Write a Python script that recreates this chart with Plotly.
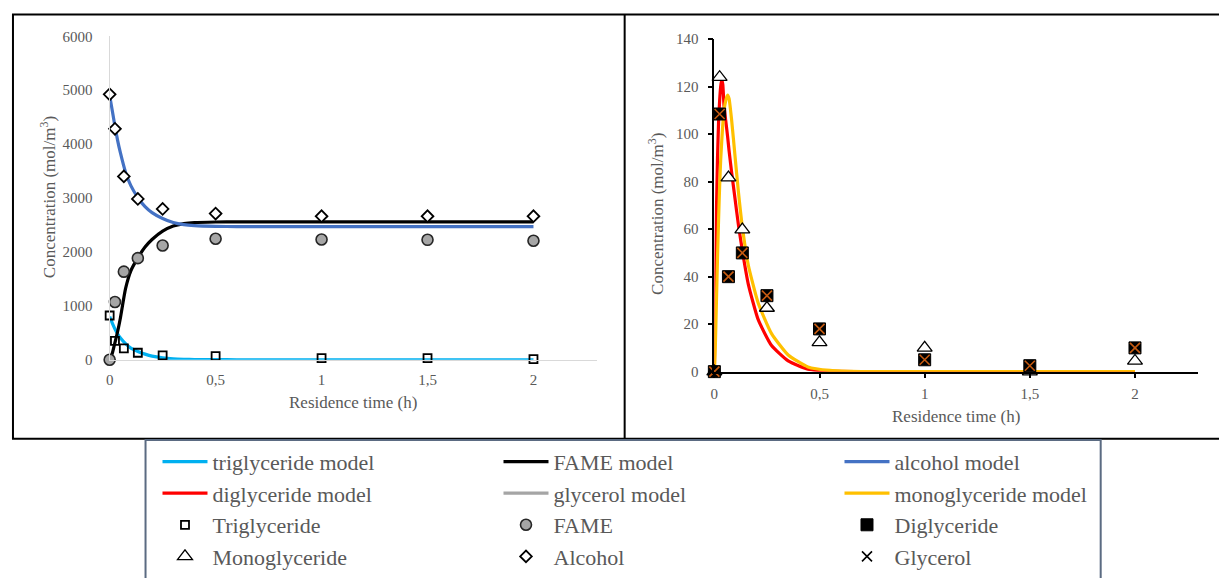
import plotly.graph_objects as go

# ---------------- data ----------------
t_obs = [0, 0.025, 0.067, 0.133, 0.25, 0.5, 1, 1.5, 2]

# left panel observations (mol/m3)
tg_obs = [821, 351, 211, 130, 81, 68, 31, 31, 13]
fame_obs = [0, 1072, 1634, 1885, 2120, 2244, 2231, 2225, 2207]
alc_obs = [4924, 4283, 3401, 2983, 2798, 2712, 2662, 2662, 2662]

# right panel observations (mol/m3)
dg_obs = [0, 108.5, 40, 50, 32, 18, 5, 2.5, 10]
mg_obs = [0, 124, 81.7, 59.8, 26.8, 12.3, 10, 0, 4.5]
gly_obs = [0, 108.5, 40, 50, 32, 18, 5, 2.5, 10]

# left panel model curves
t_model_left = [0, 0.0125, 0.025, 0.0375, 0.05, 0.075, 0.1, 0.133, 0.167, 0.2,
                0.25, 0.3, 0.35, 0.4, 0.5, 0.6, 0.8, 1, 1.5, 2]
tg_model = [800, 680, 570, 480, 410, 300, 215, 155, 105, 68,
            37, 19, 10, 5, 2, 0.5, 0, 0, 0, 0]
fame_model = [0, 120, 320, 520, 760, 1320, 1650, 1890, 2090, 2230,
              2385, 2480, 2525, 2545, 2555, 2558, 2558, 2558, 2558, 2558]
alc_model = [4900, 4620, 4330, 4070, 3850, 3480, 3230, 3010, 2840, 2730,
             2620, 2545, 2505, 2487, 2474, 2471, 2470, 2470, 2470, 2470]

# right panel model curves
t_model_right = [0, 0.005, 0.01, 0.015, 0.02, 0.025, 0.03, 0.035, 0.04, 0.046,
                 0.055, 0.063, 0.07, 0.082, 0.098, 0.114, 0.133, 0.161, 0.208,
                 0.272, 0.351, 0.445, 0.55, 0.7, 1, 1.5, 2]
dg_model = [0, 35, 68, 90, 105, 114, 120, 123, 121, 112,
            105, 99, 93, 84, 73, 62, 51, 37, 22,
            11, 4.5, 1, 0.2, 0, 0, 0, 0]
mg_model = [0, 12, 30, 48, 64, 78, 89, 97, 104, 110,
            114.5, 116.5, 115, 106, 91, 76, 61, 45, 29,
            16, 7, 2, 0.5, 0, 0, 0, 0]

x_tick_vals = [0, 0.5, 1, 1.5, 2]
x_tick_text = ["0", "0,5", "1", "1,5", "2"]
y_left_ticks = [0, 1000, 2000, 3000, 4000, 5000, 6000]
y_right_ticks = [0, 20, 40, 60, 80, 100, 120, 140]

# ---------------- styling ----------------
W, H = 1219, 578
FONT = "Liberation Serif"
GREY_TXT = "#595959"
# vertical correction for how the page is photographed
VS, VO = 0.972, 7.4


def fx(p):
    return p / W


def fy(p):
    p_in = (p - VO) / VS
    return 1 - p_in / H


C_TG = "#00B0F0"
C_FAME = "#000000"
C_ALC = "#4472C4"
C_DG = "#FF0000"
C_GLY = "#A5A5A5"
C_MG = "#FFC000"
C_X = "#C55A11"

fig = go.Figure()
LW = 3.2

# ----- left panel model lines -----
fig.add_trace(go.Scatter(x=t_model_left, y=tg_model, mode="lines", name="triglyceride model",
                         line=dict(color=C_TG, width=LW, shape="spline", smoothing=0.6),
                         xaxis="x", yaxis="y", legendrank=1))
fig.add_trace(go.Scatter(x=t_model_left, y=fame_model, mode="lines", name="FAME model",
                         line=dict(color=C_FAME, width=LW, shape="spline", smoothing=0.6),
                         xaxis="x", yaxis="y", legendrank=2))
fig.add_trace(go.Scatter(x=t_model_left, y=alc_model, mode="lines", name="alcohol model",
                         line=dict(color=C_ALC, width=LW, shape="spline", smoothing=0.6),
                         xaxis="x", yaxis="y", legendrank=3))

# ----- right panel model lines -----
fig.add_trace(go.Scatter(x=t_model_right, y=dg_model, mode="lines", name="diglyceride model",
                         line=dict(color=C_DG, width=LW, shape="spline", smoothing=0.5),
                         xaxis="x2", yaxis="y2", legendrank=4))
fig.add_trace(go.Scatter(x=[None], y=[None], mode="lines", name="glycerol model",
                         line=dict(color=C_GLY, width=LW),
                         xaxis="x2", yaxis="y2", legendrank=5))
fig.add_trace(go.Scatter(x=t_model_right, y=mg_model, mode="lines", name="monoglyceride model",
                         line=dict(color=C_MG, width=LW, shape="spline", smoothing=0.5),
                         xaxis="x2", yaxis="y2", legendrank=6))

# ----- left panel markers -----
fig.add_trace(go.Scatter(x=t_obs, y=tg_obs, mode="markers", name="Triglyceride",
                         marker=dict(symbol="square-open", size=8, color="#000000",
                                     line=dict(width=1.8, color="#000000")),
                         cliponaxis=False, xaxis="x", yaxis="y", legendrank=7))
fig.add_trace(go.Scatter(x=t_obs, y=fame_obs, mode="markers", name="FAME",
                         marker=dict(symbol="circle", size=11, color="#A6A6A6",
                                     line=dict(width=1.6, color="#262626")),
                         cliponaxis=False, xaxis="x", yaxis="y", legendrank=8))
fig.add_trace(go.Scatter(x=t_obs, y=alc_obs, mode="markers", name="Alcohol",
                         marker=dict(symbol="diamond", size=9, color="#FFFFFF",
                                     line=dict(width=1.8, color="#000000")),
                         cliponaxis=False, xaxis="x", yaxis="y", legendrank=11))

# ----- right panel markers -----
fig.add_trace(go.Scatter(x=t_obs, y=mg_obs, mode="markers", name="Monoglyceride",
                         marker=dict(symbol="triangle-up", size=13, color="#FFFFFF",
                                     line=dict(width=1.3, color="#000000")),
                         cliponaxis=False, xaxis="x2", yaxis="y2", legendrank=10))
fig.add_trace(go.Scatter(x=t_obs, y=dg_obs, mode="markers", name="Diglyceride",
                         marker=dict(symbol="square", size=12, color="#000000",
                                     line=dict(width=1, color="#000000")),
                         cliponaxis=False, xaxis="x2", yaxis="y2", legendrank=9))
fig.add_trace(go.Scatter(x=t_obs, y=gly_obs, mode="markers", name="Glycerol",
                         marker=dict(symbol="x-thin-open", size=10, color=C_X,
                                     line=dict(width=1.6, color=C_X)),
                         cliponaxis=False, showlegend=False,
                         xaxis="x2", yaxis="y2"))
# legend entry for glycerol (black cross as in the reference legend)
fig.add_trace(go.Scatter(x=[None], y=[None], mode="markers", name="Glycerol",
                         marker=dict(symbol="x-thin-open", size=10, color="#000000",
                                     line=dict(width=1.6, color="#000000")),
                         xaxis="x2", yaxis="y2", legendrank=12))

tickfont = dict(family=FONT, size=15, color=GREY_TXT)
title_font = dict(family=FONT, size=17, color=GREY_TXT)

fig.update_layout(
    width=W, height=H,
    margin=dict(l=0, r=0, t=0, b=0),
    paper_bgcolor="white", plot_bgcolor="rgba(0,0,0,0)",
    showlegend=True,
    xaxis=dict(domain=[fx(106), fx(595)], range=[0, 2.3], anchor="y",
               showline=True, linecolor="#D9D9D9", linewidth=1.2,
               showgrid=False, zeroline=False, ticks="",
               tickvals=x_tick_vals, ticktext=x_tick_text, tickfont=tickfont,
               ticklabelstandoff=6),
    yaxis=dict(domain=[fy(363.5), fy(36)], range=[0, 6000], anchor="x",
               showline=True, linecolor="#D9D9D9", linewidth=1.2,
               showgrid=False, zeroline=False, ticks="",
               tickvals=y_left_ticks, tickfont=tickfont, ticklabelstandoff=13),
    xaxis2=dict(domain=[fx(712.7), fx(1198)], range=[0, 2.3], anchor="y2",
                showline=True, linecolor="#000000", linewidth=1.5,
                showgrid=False, zeroline=False, ticks="outside", ticklen=5,
                tickwidth=1.5, tickcolor="#000000",
                tickvals=x_tick_vals, ticktext=x_tick_text, tickfont=tickfont,
                ticklabelstandoff=3),
    yaxis2=dict(domain=[fy(375.5), fy(39)], range=[0, 140], anchor="x2",
                showline=True, linecolor="#000000", linewidth=1.5,
                showgrid=False, zeroline=False, ticks="outside", ticklen=5,
                tickwidth=1.5, tickcolor="#000000",
                tickvals=y_right_ticks, tickfont=tickfont, ticklabelstandoff=6),
    legend=dict(orientation="h", x=fx(154), xanchor="left", y=fy(445.5), yanchor="top",
                entrywidth=281, entrywidthmode="pixels", itemwidth=45,
                font=dict(family=FONT, size=22, color=GREY_TXT),
                bgcolor="rgba(0,0,0,0)", borderwidth=0, traceorder="normal"),
    shapes=[
        # panel frames
        dict(type="rect", xref="paper", yref="paper", x0=fx(9), x1=fx(1225),
             y0=fy(443.5), y1=fy(14), line=dict(color="#000000", width=2), layer="below"),
        dict(type="line", xref="paper", yref="paper", x0=fx(622.7), x1=fx(622.7),
             y0=fy(443.5), y1=fy(14), line=dict(color="#000000", width=2), layer="below"),
        # legend frame
        dict(type="rect", xref="paper", yref="paper", x0=fx(142), x1=fx(1100.3),
             y0=fy(620), y1=fy(444.8), line=dict(color="#5B6B82", width=2),
             fillcolor="white", layer="above"),
    ],
    annotations=[
        dict(text="Concentration (mol/m<sup>3</sup>)", xref="paper", yref="paper",
             x=fx(44), y=fy(199), textangle=-90, showarrow=False, font=title_font,
             xanchor="center", yanchor="middle"),
        dict(text="Concentration (mol/m<sup>3</sup>)", xref="paper", yref="paper",
             x=fx(654), y=fy(216), textangle=-90, showarrow=False, font=title_font,
             xanchor="center", yanchor="middle"),
        dict(text="Residence time (h)", xref="paper", yref="paper",
             x=fx(350), y=fy(407), showarrow=False, font=title_font,
             xanchor="center", yanchor="middle"),
        dict(text="Residence time (h)", xref="paper", yref="paper",
             x=fx(955), y=fy(421), showarrow=False, font=title_font,
             xanchor="center", yanchor="middle"),
    ],
)

POST = (
    "document.documentElement.style.margin='0';"
    "document.documentElement.style.overflow='hidden';"
    "document.body.style.margin='0';"
    "document.body.style.padding='0';"
    "document.body.style.overflow='hidden';"
)

fig.write_html("out.html", config={"displayModeBar": False}, post_script=POST)
